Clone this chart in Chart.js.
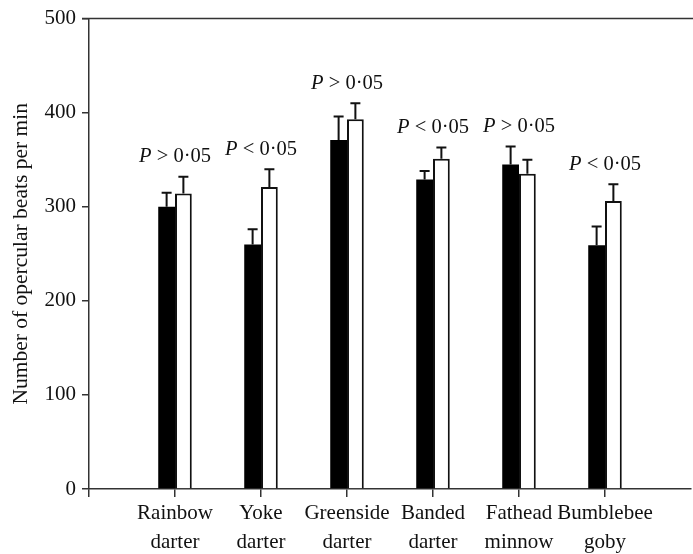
<!DOCTYPE html>
<html lang="en">
<head>
  <meta charset="UTF-8">
  <title>Opercular beats per min</title>
  <script src="https://cdn.jsdelivr.net/npm/chart.js"></script>
  <style>
    html, body { margin: 0; padding: 0; background: #fff; }
    #wrap { width: 693px; height: 554px; }
  </style>
</head>
<body>
<div id="wrap">
  <canvas id="grafico" width="693" height="554"></canvas>
</div>

<script>
  // species on the x axis (two lines each)
  const especies = [
    ['Rainbow', 'darter'],
    ['Yoke', 'darter'],
    ['Greenside', 'darter'],
    ['Banded', 'darter'],
    ['Fathead', 'minnow'],
    ['Bumblebee', 'goby']
  ];
  // black bars and their error (+SE)
  const barrasPretas = [300, 260, 371, 329, 345, 259];
  const erroPretas = [15, 16, 25, 9, 19, 20];
  // white bars and their error
  const barrasBrancas = [314, 321, 393, 351, 335, 306];
  const erroBrancas = [18, 19, 17, 12, 15, 18];
  // significance signs above each pair
  const sinais = ['>', '<', '>', '<', '>', '<'];
  const yTicks = [0, 100, 200, 300, 400, 500];

  const fonte = 'Liberation Serif';
  const corEixo = '#333';

  // empty slot on each side so the bars sit like the original
  const rotulos = [''].concat(especies, ['']);
  const pad = (arr) => [null].concat(arr, [null]);
  const erros = [pad(erroPretas), pad(erroBrancas)];

  // error bars, top frame line and P labels
  const extras = {
    id: 'extras',
    afterDatasetsDraw(chart) {
      const ctx = chart.ctx;
      const y = chart.scales.y;
      const area = chart.chartArea;
      ctx.save();
      ctx.strokeStyle = '#111';
      ctx.lineWidth = 2;
      const topos = [];
      chart.data.datasets.forEach((ds, d) => {
        const meta = chart.getDatasetMeta(d);
        meta.data.forEach((bar, i) => {
          const v = ds.data[i];
          if (v == null) return;
          const yTop = y.getPixelForValue(v + erros[d][i]);
          ctx.beginPath();
          ctx.moveTo(bar.x, bar.y);
          ctx.lineTo(bar.x, yTop);
          ctx.moveTo(bar.x - 5, yTop);
          ctx.lineTo(bar.x + 5, yTop);
          ctx.stroke();
          topos[i] = topos[i] == null ? yTop : Math.min(topos[i], yTop);
        });
      });

      // top frame
      ctx.strokeStyle = corEixo;
      ctx.lineWidth = 1.5;
      ctx.beginPath();
      ctx.moveTo(area.left - 7, area.top);
      ctx.lineTo(chart.width, area.top);
      ctx.stroke();

      // P labels
      ctx.fillStyle = '#111';
      ctx.textBaseline = 'middle';
      ctx.textAlign = 'left';
      const tam = 20.5;
      sinais.forEach((s, k) => {
        const i = k + 1;
        const cx = chart.scales.x.getPixelForValue(i);
        const cy = topos[i] - 20;
        const parteP = 'P';
        const resto = ' ' + s + ' 0\u00b705';
        ctx.font = 'italic ' + tam + 'px "' + fonte + '"';
        const wP = ctx.measureText(parteP).width;
        ctx.font = tam + 'px "' + fonte + '"';
        const wR = ctx.measureText(resto).width;
        const x0 = cx - (wP + wR) / 2;
        ctx.font = 'italic ' + tam + 'px "' + fonte + '"';
        ctx.fillText(parteP, x0, cy);
        ctx.font = tam + 'px "' + fonte + '"';
        ctx.fillText(resto, x0 + wP, cy);
      });
      ctx.restore();
    }
  };

  const ctxG = document.getElementById('grafico').getContext('2d');

  new Chart(ctxG, {
    type: 'bar',
    data: {
      labels: rotulos,
      datasets: [
        {
          data: pad(barrasPretas),
          backgroundColor: '#000',
          borderColor: '#111',
          borderWidth: 0,
          categoryPercentage: 0.39,
          barPercentage: 1
        },
        {
          data: pad(barrasBrancas),
          backgroundColor: '#fff',
          borderColor: '#111',
          borderWidth: 2,
          borderSkipped: 'bottom',
          categoryPercentage: 0.39,
          barPercentage: 1
        }
      ]
    },
    options: {
      responsive: false,
      animation: false,
      layout: { padding: { top: 15, right: 0, left: 0, bottom: 0 } },
      plugins: {
        legend: { display: false },
        tooltip: { enabled: false }
      },
      scales: {
        x: {
          offset: false,
          grid: {
            offset: false,
            drawOnChartArea: false,
            // last slot sits on the cropped right edge: no tick there
            color: (c) => c.index === rotulos.length - 1 ? 'rgba(0,0,0,0)' : corEixo,
            tickLength: 8,
            lineWidth: 1.5
          },
          border: { color: corEixo, width: 1.5 },
          ticks: {
            maxRotation: 0,
            autoSkip: false,
            padding: 2,
            color: '#111',
            font: { family: fonte, size: 21, lineHeight: 1.38 }
          },
          afterFit(s) { s.height = 65; }
        },
        y: {
          min: 0,
          max: 500,
          afterBuildTicks(s) { s.ticks = yTicks.map(v => ({ value: v })); },
          grid: {
            drawOnChartArea: false,
            color: corEixo,
            tickLength: 7,
            lineWidth: 1.5
          },
          border: { color: corEixo, width: 1.5 },
          ticks: {
            padding: 6,
            color: '#111',
            font: { family: fonte, size: 21 }
          },
          title: {
            display: true,
            text: 'Number of opercular beats per min',
            color: '#111',
            font: { family: fonte, size: 21.5 },
            padding: { top: 8, bottom: 0 }
          },
          afterFit(s) { s.width = 89; }
        }
      }
    },
    plugins: [extras]
  });
</script>
</body>
</html>
